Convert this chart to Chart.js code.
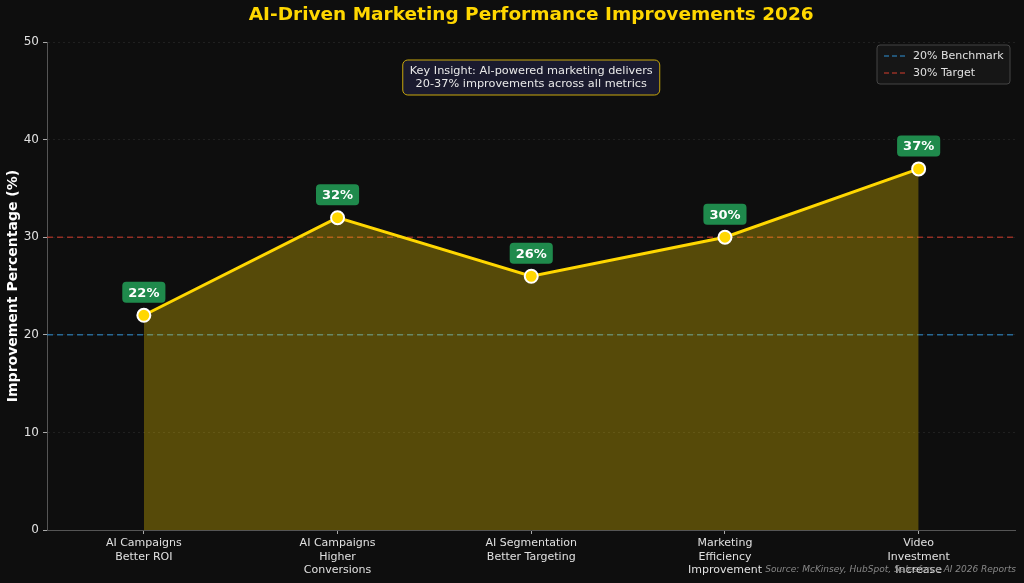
<!DOCTYPE html>
<html lang="en">
<head>
    <meta charset="UTF-8">
    <title>AI-Driven Marketing Performance Improvements 2026</title>
    <script src="https://cdn.jsdelivr.net/npm/chart.js@4.4.1/dist/chart.umd.min.js"></script>
    <style>
        html, body {
            margin: 0;
            padding: 0;
            background: #0e0e0e;
        }
        .wrap {
            width: 1024px;
            height: 583px;
        }
    </style>
</head>
<body>
    <div class="wrap">
        <canvas id="perfChart" width="1024" height="583"></canvas>
    </div>

    <script>
        // Chart data
        const categories = [
            ['AI Campaigns', 'Better ROI'],
            ['AI Campaigns', 'Higher', 'Conversions'],
            ['AI Segmentation', 'Better Targeting'],
            ['Marketing', 'Efficiency', 'Improvement'],
            ['Video', 'Investment', 'Increase']
        ];
        const improvements = [22, 32, 26, 30, 37];
        const refValues = [20, 30];
        const refLabels = ['20% Benchmark', '30% Target'];
        const yTicks = [0, 10, 20, 30, 40, 50];

        const FONT = "'DejaVu Sans', sans-serif";
        const GOLD = '#FFD700';
        const refColors = ['rgba(46, 134, 193, 0.75)', 'rgba(192, 57, 43, 0.75)'];

        // reference lines across the whole plot, behind the data
        const refLines = {
            id: 'refLines',
            beforeDatasetsDraw(chart) {
                const ctx = chart.ctx;
                const area = chart.chartArea;
                const yScale = chart.scales.y;
                ctx.save();
                ctx.lineWidth = 1.5;
                ctx.setLineDash([6, 4]);
                refValues.forEach((v, i) => {
                    const y = yScale.getPixelForValue(v);
                    ctx.strokeStyle = refColors[i];
                    ctx.beginPath();
                    ctx.moveTo(area.left, y);
                    ctx.lineTo(area.right, y);
                    ctx.stroke();
                });
                ctx.restore();
            }
        };

        // draws title, value badges, insight box, legend and source note
        const extras = {
            id: 'extras',
            afterDatasetsDraw(chart) {
                const ctx = chart.ctx;
                const meta = chart.getDatasetMeta(0);

                // value badges
                ctx.save();
                ctx.font = 'bold 13px ' + FONT;
                ctx.textAlign = 'center';
                ctx.textBaseline = 'middle';
                meta.data.forEach((pt, i) => {
                    const txt = improvements[i] + '%';
                    const w = ctx.measureText(txt).width + 12;
                    const h = 21;
                    const cx = pt.x, cy = pt.y - 23;
                    ctx.fillStyle = '#1f8a4c';
                    ctx.beginPath();
                    ctx.roundRect(cx - w / 2, cy - h / 2, w, h, 4);
                    ctx.fill();
                    ctx.fillStyle = '#ffffff';
                    ctx.fillText(txt, cx, cy + 1);
                });
                ctx.restore();
            },
            afterDraw(chart) {
                const ctx = chart.ctx;
                const area = chart.chartArea;
                const midX = (area.left + area.right) / 2;

                // title
                ctx.save();
                ctx.font = 'bold 18.5px ' + FONT;
                ctx.fillStyle = GOLD;
                ctx.textAlign = 'center';
                ctx.textBaseline = 'middle';
                ctx.fillText('AI-Driven Marketing Performance Improvements 2026', midX, 15);

                // insight box
                ctx.font = '11.3px ' + FONT;
                const l1 = 'Key Insight: AI-powered marketing delivers';
                const l2 = '20-37% improvements across all metrics';
                const bw = Math.max(ctx.measureText(l1).width, ctx.measureText(l2).width) + 14;
                const bh = 35;
                const bx = midX - bw / 2, by = 60;
                ctx.fillStyle = '#1a1a2e';
                ctx.strokeStyle = '#c9a80c';
                ctx.lineWidth = 1;
                ctx.beginPath();
                ctx.roundRect(bx, by, bw, bh, 5);
                ctx.fill();
                ctx.stroke();
                ctx.fillStyle = '#e8e8e8';
                ctx.fillText(l1, midX, by + 11);
                ctx.fillText(l2, midX, by + 24);

                // legend
                const lx = 877, ly = 45, lw = 133, lh = 39;
                ctx.fillStyle = '#161616';
                ctx.strokeStyle = '#444444';
                ctx.beginPath();
                ctx.roundRect(lx, ly, lw, lh, 3);
                ctx.fill();
                ctx.stroke();
                ctx.textAlign = 'left';
                ctx.font = '11px ' + FONT;
                refLabels.forEach((lbl, i) => {
                    const yy = ly + 11 + i * 17;
                    ctx.strokeStyle = refColors[i];
                    ctx.lineWidth = 1.5;
                    ctx.setLineDash([5, 3]);
                    ctx.beginPath();
                    ctx.moveTo(lx + 7, yy);
                    ctx.lineTo(lx + 28, yy);
                    ctx.stroke();
                    ctx.setLineDash([]);
                    ctx.fillStyle = '#e0e0e0';
                    ctx.fillText(lbl, lx + 36, yy);
                });

                // source note
                ctx.font = 'italic 9px ' + FONT;
                ctx.fillStyle = '#888888';
                ctx.textAlign = 'right';
                ctx.fillText('Source: McKinsey, HubSpot, Salesforce AI 2026 Reports', 1016, 570);
                ctx.restore();
            }
        };

        new Chart(document.getElementById('perfChart'), {
            type: 'line',
            data: {
                labels: categories,
                datasets: [
                    {
                        label: 'Improvement',
                        data: improvements,
                        borderColor: GOLD,
                        borderWidth: 3,
                        backgroundColor: 'rgba(255, 215, 0, 0.3)',
                        fill: 'origin',
                        tension: 0,
                        pointRadius: 6.5,
                        pointBackgroundColor: GOLD,
                        pointBorderColor: '#ffffff',
                        pointBorderWidth: 2
                    }
                ]
            },
            options: {
                responsive: false,
                animation: false,
                layout: {
                    padding: { top: 42, right: 8, left: 0, bottom: 0 }
                },
                plugins: {
                    legend: { display: false },
                    tooltip: { enabled: false },
                    title: { display: false }
                },
                scales: {
                    x: {
                        offset: true,
                        afterFit: (scale) => { scale.height = 53; },
                        grid: {
                            drawOnChartArea: false,
                            drawTicks: true,
                            tickLength: 4,
                            tickColor: '#aaaaaa'
                        },
                        border: { color: '#555555' },
                        ticks: {
                            color: '#e0e0e0',
                            font: { family: FONT, size: 11 },
                            maxRotation: 0,
                            autoSkip: false,
                            padding: 3
                        }
                    },
                    y: {
                        min: 0,
                        max: 50,
                        afterFit: (scale) => { scale.width = 47; },
                        afterBuildTicks: (scale) => {
                            scale.ticks = yTicks.map(v => ({ value: v }));
                        },
                        grid: {
                            color: 'rgba(255, 255, 255, 0.08)',
                            tickBorderDash: [],
                            tickColor: '#aaaaaa',
                            tickLength: 4
                        },
                        border: { color: '#555555', dash: [2, 3] },
                        ticks: {
                            color: '#e0e0e0',
                            font: { family: FONT, size: 12 },
                            padding: 4
                        },
                        title: {
                            display: true,
                            text: 'Improvement Percentage (%)',
                            color: '#ffffff',
                            font: { family: FONT, size: 14, weight: 'bold' },
                            padding: { top: 5, bottom: 0 }
                        }
                    }
                }
            },
            plugins: [refLines, extras]
        });
    </script>
</body>
</html>
